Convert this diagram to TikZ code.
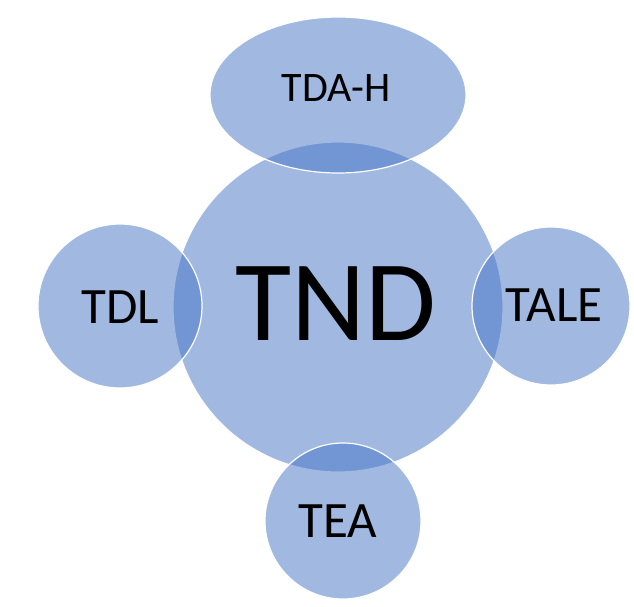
\documentclass[tikz,border=0pt]{standalone}
\usepackage{fontspec}
\setmainfont{Carlito}
\usetikzlibrary{shapes.geometric}
\definecolor{accent}{HTML}{4472C4}
\begin{document}
\begin{tikzpicture}[x=1pt,y=-1pt,
  bubble/.style={fill=accent,fill opacity=0.5,draw=white,draw opacity=1,line width=1.2pt,inner sep=0pt},
  circ/.style={bubble,circle,minimum size=#1},
  lbl/.style={text=black,inner sep=0pt,font=\fontsize{#1}{#1}\selectfont}]
\useasboundingbox (0,0) rectangle (634,606);
\node[circ=330pt] (tnd) at (338,307) {};
\node[bubble,ellipse,minimum width=256pt,minimum height=156pt] (tdah) at (338,95) {};
\node[circ=164pt] (tdl) at (120,306) {};
\node[circ=158pt] (tale) at (551,306) {};
\node[circ=156pt] (tea) at (343,521) {};
\node[lbl=115] (tndt) at (336,304) {TND};
\node[lbl=42] (tdaht) at (336,88) {TDA-H};
\node[lbl=51] (tdlt) at (120,307) {TDL};
\node[lbl=51] (talet) at (554,305) {TALE};
\node[lbl=51] (teat) at (338,521) {TEA};
\end{tikzpicture}
\end{document}
